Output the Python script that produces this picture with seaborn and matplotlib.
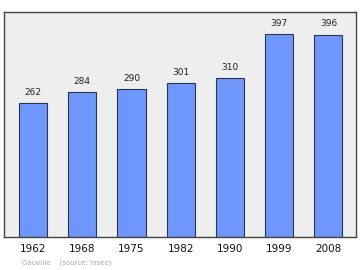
import matplotlib
matplotlib.use("Agg")
import matplotlib.pyplot as plt
import seaborn as sns
import pandas as pd

years = ["1962", "1968", "1975", "1982", "1990", "1999", "2008"]
population = [262, 284, 290, 301, 310, 397, 396]

sns.set_theme(style="white")
plt.rcParams['font.family'] = ['DejaVu Sans']

df = pd.DataFrame({"year": years, "pop": population})

fig = plt.figure(figsize=(3.6, 2.7), dpi=100)
ax = fig.add_axes([4/360, 33/270, 352/360, 225/270])
ax.set_facecolor("#eeeeee")

sns.barplot(data=df, x="year", y="pop", ax=ax, color="#6f97fb", saturation=1,
            width=0.57, edgecolor="#2a3550", linewidth=0.8)

for i, v in enumerate(population):
    ax.text(i, v + 12, str(v), ha="center", va="bottom", fontsize=6.5, color="#222222")

ax.set_xlim(-0.59, 6.56)
ax.set_ylim(0, 440)
ax.set_yticks([])
ax.set_xlabel("")
ax.set_ylabel("")
ax.tick_params(axis="x", length=0, labelsize=7.5, pad=5, colors="#111111")
for s in ax.spines.values():
    s.set_color("#444444")
    s.set_linewidth(1.0)

fig.text(22/360, 1 - 263/270, "Gauville    (source: Insee)", fontsize=5, color="#aaaaaa",
         va="center", ha="left")

fig.savefig("out.png", dpi=100, facecolor="white")
